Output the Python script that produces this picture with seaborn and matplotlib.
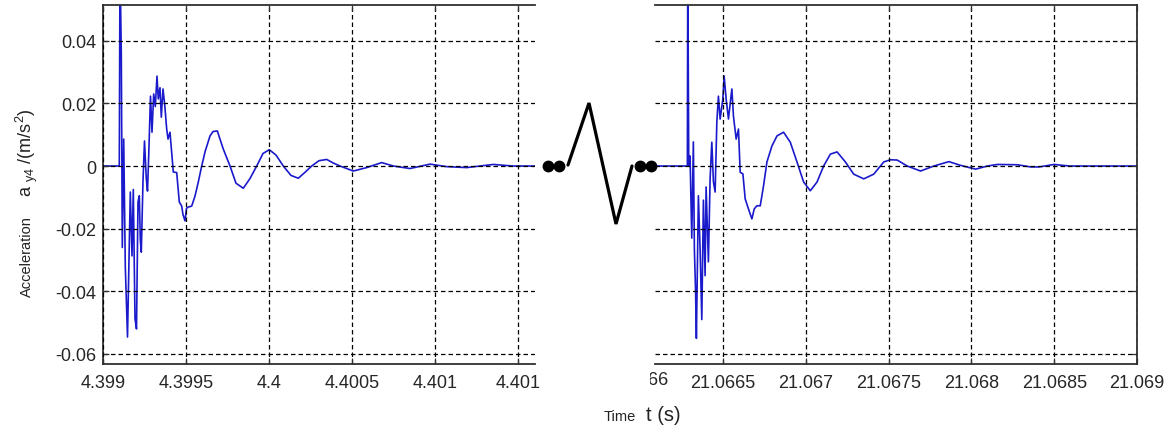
import numpy as np
import pandas as pd
import matplotlib
matplotlib.use("Agg")
import matplotlib.pyplot as plt
import seaborn as sns
from matplotlib.lines import Line2D
from matplotlib.transforms import Bbox, TransformedBbox, blended_transform_factory

# ---------------- data ----------------
left_time = [4.3990000, 4.3990982, 4.3991024, 4.3991102, 4.3991163, 4.3991247, 4.3991343,
             4.3991476, 4.3991645, 4.3991747, 4.3991825, 4.3991928, 4.3992018, 4.3992108,
             4.3992187, 4.3992247, 4.3992307, 4.3992410, 4.3992500, 4.3992608, 4.3992681,
             4.3992753, 4.3992861, 4.3992952, 4.3993054, 4.3993151, 4.3993253, 4.3993331,
             4.3993434, 4.3993512, 4.3993614, 4.3993717, 4.3993837, 4.3993916, 4.3994036,
             4.3994235, 4.3994440, 4.3994596, 4.3994741, 4.3994819, 4.3994940, 4.3995030,
             4.3995139, 4.3995343, 4.3995542, 4.3995741, 4.3995946, 4.3996145, 4.3996446,
             4.3996627, 4.3996886, 4.3997247, 4.3997651, 4.3998012, 4.3998452, 4.3998855,
             4.3999259, 4.3999639, 4.4000018, 4.4000422, 4.4000861, 4.4001325, 4.4001765,
             4.4002169, 4.4002572, 4.4003012, 4.4003476, 4.4003855, 4.4004277, 4.4005078,
             4.4005886, 4.4006789, 4.4007488, 4.4008494, 4.4009699, 4.4010705, 4.4011910,
             4.4013512, 4.4014699, 4.4016024]
left_acc = [0.0, 0.0, 0.065, 0.036, -0.026, 0.0086, -0.032,
            -0.0546, -0.0083, -0.0287, -0.0075, -0.0488, -0.052, -0.0115,
            -0.0095, -0.0235, -0.0275, -0.0047, 0.008, -0.004, -0.008,
            0.0032, 0.0223, 0.0108, 0.023, 0.019, 0.0287, 0.0214,
            0.025, 0.0156, 0.0246, 0.0196, 0.0118, 0.0086, 0.0108,
            -0.0019, -0.0021, -0.0115, -0.0128, -0.0155, -0.0175, -0.0135,
            -0.0131, -0.0128, -0.0096, -0.0051, 0.0, 0.0045, 0.0096,
            0.011, 0.0112, 0.0054, 0.0, -0.0055, -0.0071, -0.004,
            0.0, 0.004, 0.0052, 0.0035, 0.0, -0.003, -0.0039,
            -0.002, 0.0, 0.0017, 0.0021, 0.001, 0.0, -0.0016,
            -0.0005, 0.0011, 0.0, -0.0008, 0.0006, -0.0002, -0.0005,
            0.0005, 0.0, 0.0]

right_time = [21.0660884, 21.0662839, 21.0662863, 21.0662924, 21.0663002, 21.0663105,
              21.0663202, 21.0663263, 21.0663335, 21.0663384, 21.0663505, 21.0663608,
              21.0663711, 21.0663808, 21.0663910, 21.0663971, 21.0664110, 21.0664213,
              21.0664316, 21.0664413, 21.0664516, 21.0664619, 21.0664715, 21.0664818,
              21.0664982, 21.0665061, 21.0665182, 21.0665321, 21.0665527, 21.0665623,
              21.0665787, 21.0665926, 21.0666029, 21.0666193, 21.0666332, 21.0666531,
              21.0666737, 21.0666877, 21.0667040, 21.0667240, 21.0667439, 21.0667645,
              21.0667948, 21.0668251, 21.0668650, 21.0669056, 21.0669461, 21.0669861,
              21.0670266, 21.0670672, 21.0671071, 21.0671477, 21.0671883, 21.0672385,
              21.0672887, 21.0673493, 21.0674098, 21.0674703, 21.0675109, 21.0675515,
              21.0676120, 21.0676925, 21.0677730, 21.0678638, 21.0679346, 21.0680254,
              21.0680962, 21.0681568, 21.0682778, 21.0683584, 21.0684086, 21.0684994,
              21.0685902, 21.0690000]
right_acc = [0.0, 0.0, 0.065, 0.0, 0.0032, -0.023,
             0.0077, -0.0265, -0.040, -0.055, -0.0095, -0.0265,
             -0.049, -0.0109, -0.035, -0.0067, -0.0306, -0.004,
             0.0076, -0.005, -0.0083, 0.014, 0.0223, 0.015,
             0.0214, 0.0287, 0.0214, 0.015, 0.0246, 0.0159,
             0.0086, 0.0118, -0.002, -0.0025, -0.0105, -0.0137,
             -0.0169, -0.0137, -0.0127, -0.0127, -0.0064, 0.0013,
             0.0064, 0.0096, 0.0108, 0.0076, 0.0013, -0.0051,
             -0.0079, -0.0051, 0.0, 0.0038, 0.0045, 0.0013,
             -0.0026, -0.0041, -0.0026, 0.0013, 0.0020, 0.0019,
             0.0, -0.0016, 0.0, 0.0014, 0.0002, -0.001,
             0.0, 0.0005, 0.0004, -0.0003, -0.0003, 0.0005,
             0.0, 0.0]

left_xticks = [4.399, 4.3995, 4.4, 4.4005, 4.401, 4.4015]
left_xticklabels = ["4.399", "4.3995", "4.4", "4.4005", "4.401", "4.401"]
right_xticks = [21.0665, 21.067, 21.0675, 21.068, 21.0685, 21.069]
right_xticklabels = ["21.0665", "21.067", "21.0675", "21.068", "21.0685", "21.069"]
right_hidden_tick = 21.066
right_hidden_label = "21.066"
yticks = [-0.06, -0.04, -0.02, 0.0, 0.02, 0.04]
yticklabels = ["-0.06", "-0.04", "-0.02", "0", "0.02", "0.04"]

# ---------------- style ----------------
sns.set_style("white")
plt.rcParams["font.family"] = ["Liberation Sans", "DejaVu Sans"]
plt.rcParams["mathtext.fontset"] = "custom"
plt.rcParams["mathtext.rm"] = "Liberation Sans"
plt.rcParams["mathtext.it"] = "Liberation Sans:italic"
plt.rcParams["axes.unicode_minus"] = False

W, H = 1176, 427
fig = plt.figure(figsize=(W / 100, H / 100), dpi=100)
fig.patch.set_facecolor("white")

def fx(px):
    return px / W

def fy(py):
    return 1 - py / H

ax1 = fig.add_axes([fx(103), fy(365), fx(535) - fx(103), fy(6) - fy(365)])
ax2 = fig.add_axes([fx(655), fy(365), fx(1137) - fx(655), fy(6) - fy(365)])

line_color = "#1a1acc"
df_left = pd.DataFrame({"t": left_time, "a": left_acc})
df_right = pd.DataFrame({"t": right_time, "a": right_acc})
sns.lineplot(data=df_left, x="t", y="a", ax=ax1, color=line_color, linewidth=1.2,
             sort=False, estimator=None)
sns.lineplot(data=df_right, x="t", y="a", ax=ax2, color=line_color, linewidth=1.2,
             sort=False, estimator=None)

ylim = (-0.0632, 0.0514)
grid_kw = dict(color="black", linewidth=0.9, linestyle=(0, (3.6, 2.4)))
tick_color = "#262626"

for ax in (ax1, ax2):
    ax.set_ylim(*ylim)
    ax.set_yticks(yticks)
    ax.grid(True, **grid_kw)
    ax.set_axisbelow(False)
    ax.set_xlabel("")
    ax.set_ylabel("")
    for sp in ax.spines.values():
        sp.set_color("#303030")
        sp.set_linewidth(1.3)
    ax.tick_params(direction="in", length=4, width=0.9, colors="#303030",
                   labelcolor=tick_color, labelsize=13, pad=5)
    ax.tick_params(axis="x", pad=7)

ax1.set_xlim(4.399, 4.4016024)
ax1.set_xticks(left_xticks)
ax1.set_xticklabels(left_xticklabels)
ax1.set_yticklabels(yticklabels)
ax1.spines["right"].set_visible(False)
ax1.tick_params(top=True, bottom=True, left=True, right=False)

ax2.set_xlim(21.0660884, 21.069)
ax2.set_xticks(right_xticks)
ax2.set_xticklabels(right_xticklabels)
ax2.set_yticklabels([])
ax2.spines["left"].set_visible(False)
ax2.tick_params(top=True, bottom=True, left=False, right=True)

# partially hidden tick label at the left edge of the right panel
trans = blended_transform_factory(ax2.transData, ax2.transAxes)
lbl = ax2.text(right_hidden_tick, -7.5 / (365 - 6), right_hidden_label, transform=trans,
               ha="center", va="top", fontsize=13, color=tick_color)
lbl.set_clip_on(True)
lbl.set_clip_box(TransformedBbox(Bbox([[-5.0 / 482, -0.3], [1.2, 1.0]]), ax2.transAxes))

# axis labels
fig.text(fx(27), fy(257), "Acceleration", rotation=90, ha="center", va="center",
         fontsize=10.5, color="#222222")
fig.text(fx(27), fy(153), r"a $_{\mathrm{y4}}$ /(m/s$^{\mathrm{2}}$)", rotation=90,
         ha="center", va="center", fontsize=13, color="#222222")
fig.text(fx(604), fy(421), "Time", ha="left", va="baseline", fontsize=10.5, color="#222222")
fig.text(fx(646), fy(421), "t (s)", ha="left", va="baseline", fontsize=14.5, color="#222222")

# axis-break symbol between the panels
for (x, y) in [(548, 167), (559, 167), (640, 167), (651, 167)]:
    fig.add_artist(Line2D([fx(x)], [fy(y)], marker="o", markersize=7.5,
                          color="black", linestyle="none"))
zx = [568, 589, 616, 632]
zy = [166, 104, 225, 167]
fig.add_artist(Line2D([fx(v) for v in zx], [fy(v) for v in zy], color="black",
                      linewidth=2.3, solid_joinstyle="miter"))

fig.savefig("out.png", dpi=100, facecolor="white")
